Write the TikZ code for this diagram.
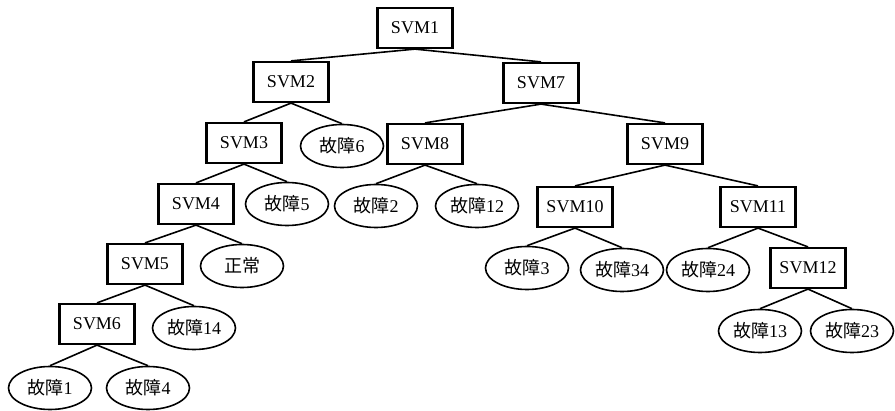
\documentclass[tikz,border=0pt]{standalone}
\usepackage{fontspec}
\setmainfont{Liberation Serif}
\newfontfamily\cjk{Noto Sans CJK SC}
\newcommand{\gz}{{\cjk 故障}}
\tikzset{
  svmbox/.style={draw, line width=2.2pt, rectangle, minimum width=75pt, minimum height=40pt, inner sep=0pt, font=\fontsize{18}{21}\selectfont},
  leafell/.style={draw, line width=1.6pt, ellipse, minimum width=83pt, minimum height=43pt, inner sep=0pt, font=\fontsize{18}{21}\selectfont},
  edge/.style={line width=1.6pt}
}
\usetikzlibrary{shapes.geometric}
\begin{document}
\begin{tikzpicture}[x=1pt,y=-1pt]
\useasboundingbox (0,0) rectangle (895,411);
\node[svmbox] (s1) at (415,28) {SVM1};
\node[svmbox] (s2) at (291,82) {SVM2};
\node[svmbox] (s7) at (541,83) {SVM7};
\node[svmbox] (s3) at (244,143) {SVM3};
\node[leafell] (f6) at (342,146) {\gz6};
\node[svmbox] (s8) at (425,144) {SVM8};
\node[svmbox] (s9) at (665,144) {SVM9};
\node[svmbox] (s4) at (196,204) {SVM4};
\node[leafell] (f5) at (287,204) {\gz5};
\node[leafell] (f2) at (376,206) {\gz2};
\node[leafell] (f12) at (477,206) {\gz12};
\node[svmbox] (s10) at (575,207) {SVM10};
\node[svmbox] (s11) at (758,207) {SVM11};
\node[svmbox] (s5) at (145,264) {SVM5};
\node[leafell] (zc) at (242,266) {{\cjk 正常}};
\node[leafell] (f3) at (527,268) {\gz3};
\node[leafell] (f34) at (622,270) {\gz34};
\node[leafell] (f24) at (708,270) {\gz24};
\node[svmbox] (s12) at (808,268) {SVM12};
\node[svmbox] (s6) at (97,324) {SVM6};
\node[leafell] (f14) at (194,328) {\gz14};
\node[leafell] (f13) at (760,331) {\gz13};
\node[leafell] (f23) at (852,331) {\gz23};
\node[leafell] (f1) at (50,388) {\gz1};
\node[leafell] (f4) at (148,388) {\gz4};
\foreach \p/\c in {s1/s2,s1/s7,s2/s3,s2/f6,s7/s8,s7/s9,s3/s4,s3/f5,s8/f2,s8/f12,s9/s10,s9/s11,s4/s5,s4/zc,s10/f3,s10/f34,s11/f24,s11/s12,s5/s6,s5/f14,s12/f13,s12/f23,s6/f1,s6/f4}
  \draw[edge] (\p.south) -- (\c.north);
\end{tikzpicture}
\end{document}
